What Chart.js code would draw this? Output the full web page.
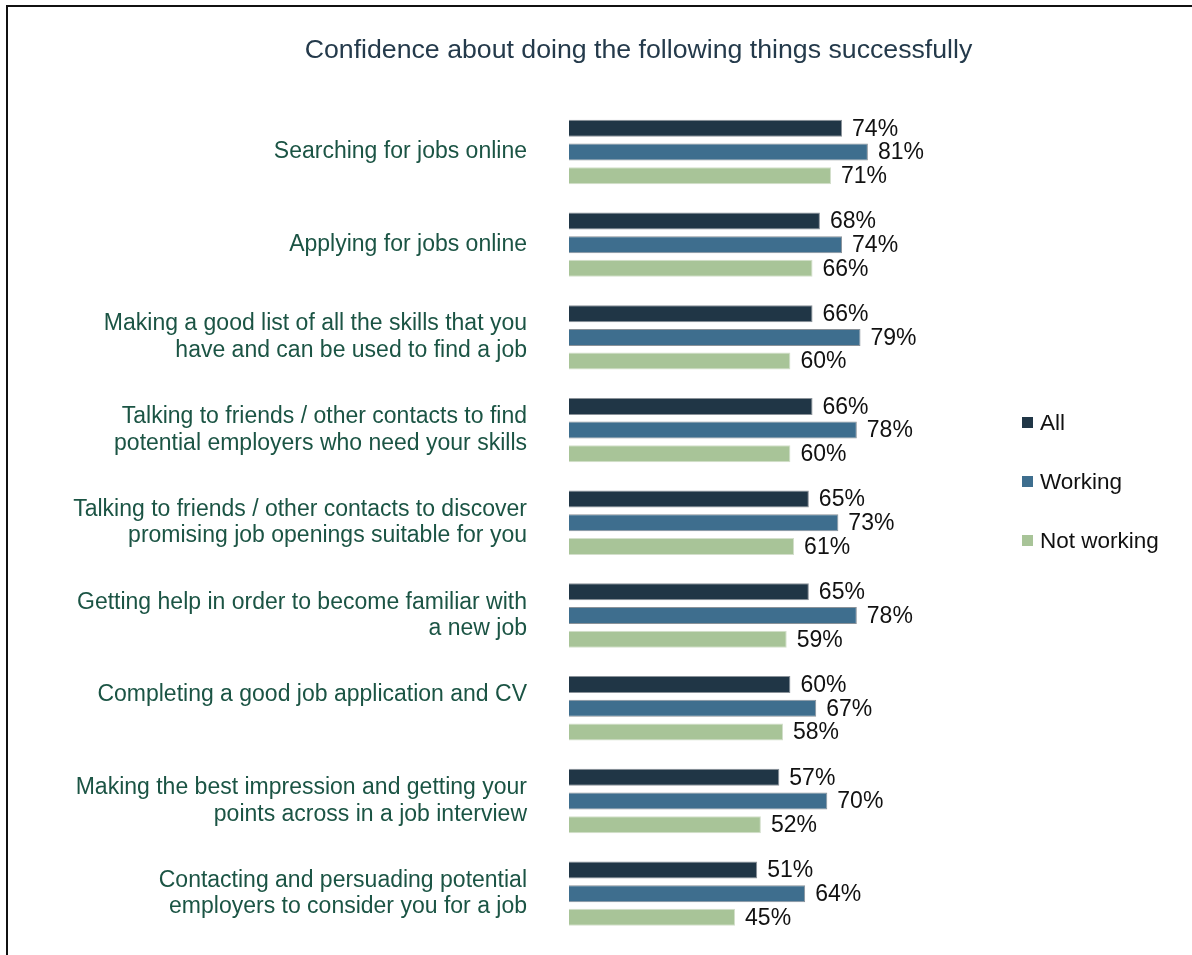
<!DOCTYPE html>
<html>
<head>
<meta charset="utf-8">
<script src="https://cdn.jsdelivr.net/npm/chart.js@4/dist/chart.umd.min.js"></script>
<style>
  html, body { margin: 0; padding: 0; background: #fff; overflow: hidden; }
  #wrap { position: relative; width: 1192px; height: 955px; }
  #frame { position: absolute; left: 6px; top: 5px; right: -10px; bottom: -10px;
           border-top: 2px solid #111; border-left: 2px solid #111; pointer-events: none; }
  canvas { position: absolute; left: 0; top: 0; }
</style>
</head>
<body>
<div id="wrap">
  <canvas id="chart" width="1192" height="955"></canvas>
  <div id="frame"></div>
</div>
<script>
const FONT = "'Liberation Sans', Arial, sans-serif";

const chartTitle = "Confidence about doing the following things successfully";

// the CV label carries an empty second line, so it sits level with the top bar
const categories = [
  ["Searching for jobs online"],
  ["Applying for jobs online"],
  ["Making a good list of all the skills that you", "have and can be used to find a job"],
  ["Talking to friends / other contacts to find", "potential employers who need your skills"],
  ["Talking to friends / other contacts to discover", "promising job openings suitable for you"],
  ["Getting help in order to become familiar with", "a new job"],
  ["Completing a good job application and CV", ""],
  ["Making the best impression and getting your", "points across in a job interview"],
  ["Contacting and persuading potential", "employers to consider you for a job"],
];

const seriesNames = ["All", "Working", "Not working"];
const allValues = [74, 68, 66, 66, 65, 65, 60, 57, 51];
const workingValues = [81, 74, 79, 78, 73, 78, 67, 70, 64];
const notWorkingValues = [71, 66, 60, 60, 61, 59, 58, 52, 45];

const colors = ["#203646", "#3e6e8e", "#a8c498"];
const borders = ["#8a9299", "#8a9299", "#d3dfcb"];

// heading above the bars, offset to the right of the page centre
const heading = {
  id: "heading",
  afterDraw(chart) {
    const ctx = chart.ctx;
    ctx.save();
    ctx.font = "26.7px " + FONT;
    ctx.fillStyle = "#243a4b";
    ctx.textAlign = "center";
    ctx.textBaseline = "middle";
    ctx.fillText(chartTitle, 638.5, 51);
    ctx.restore();
  },
};

// value labels to the right of each bar
const valueLabels = {
  id: "valueLabels",
  afterDatasetsDraw(chart) {
    const ctx = chart.ctx;
    ctx.save();
    ctx.font = "23px " + FONT;
    ctx.fillStyle = "#111";
    ctx.textAlign = "left";
    ctx.textBaseline = "middle";
    chart.data.datasets.forEach((ds, i) => {
      chart.getDatasetMeta(i).data.forEach((bar, j) => {
        ctx.fillText(ds.data[j] + "%", bar.x + 10, bar.y + 1);
      });
    });
    ctx.restore();
  },
};

// simple vertical legend on the right
const sideLegend = {
  id: "sideLegend",
  afterDraw(chart) {
    const ctx = chart.ctx;
    ctx.save();
    ctx.font = "22.5px " + FONT;
    ctx.textBaseline = "middle";
    ctx.textAlign = "left";
    chart.data.datasets.forEach((ds, i) => {
      const y = 423 + i * 59;
      ctx.fillStyle = ds.backgroundColor;
      ctx.fillRect(1022, y - 6, 11, 11);
      ctx.fillStyle = "#111";
      ctx.fillText(ds.label, 1040, y + 1);
    });
    ctx.restore();
  },
};

const values = [allValues, workingValues, notWorkingValues];

new Chart(document.getElementById("chart"), {
  type: "bar",
  data: {
    labels: categories,
    datasets: seriesNames.map((name, i) => ({
      label: name,
      data: values[i],
      backgroundColor: colors[i],
      borderColor: borders[i],
      borderWidth: 1,
      categoryPercentage: 0.767,
      barPercentage: 0.717,
    })),
  },
  options: {
    indexAxis: "y",
    responsive: false,
    animation: false,
    devicePixelRatio: 1,
    layout: { padding: { left: 0, right: 254, top: 105.6, bottom: 15 } },
    plugins: {
      legend: { display: false },
      tooltip: { enabled: false },
      title: { display: false },
    },
    scales: {
      x: { display: false, min: 0, max: 100 },
      y: {
        grid: { display: false, drawTicks: false },
        border: { display: false },
        ticks: {
          color: "#1b5444",
          padding: 42,
          font: { family: FONT, size: 23, lineHeight: 1.15 },
        },
        afterFit(scale) {
          scale.width = 569;
          scale.paddingTop = 0;
          scale.paddingBottom = 0;
        },
      },
    },
  },
  plugins: [heading, valueLabels, sideLegend],
});
</script>
</body>
</html>
